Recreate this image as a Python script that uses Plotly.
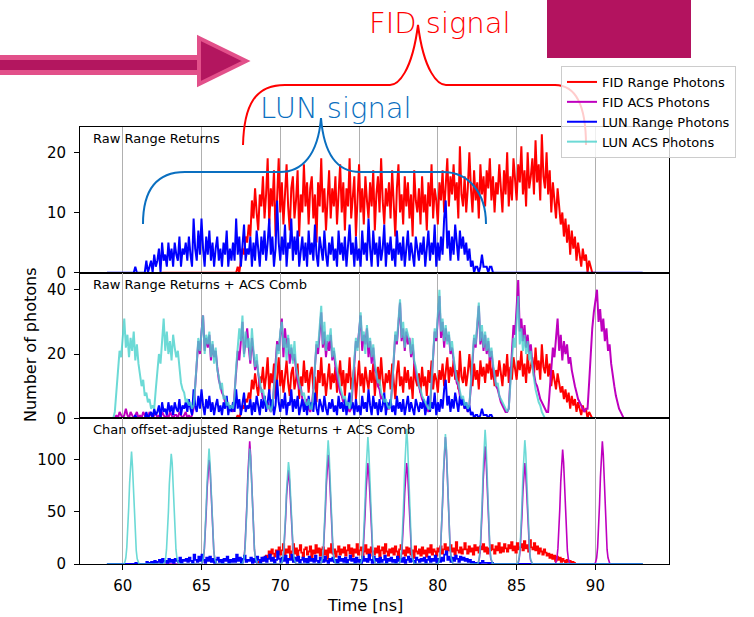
import plotly.graph_objects as go

# ------------------------------------------------------------------ data
STEP = 0.1          # ns, sampling of raw traces
STEP3 = 0.06        # ns, sampling of comb peaks (bottom panel)

# FID range photons (raw), starts at 62.5 ns, 0.1 ns bins
fid_range_t0 = 62.5
fid_range = [0] * 48 + [
    1, 0, 2, 4, 3, 6, 5,
    8, 6, 12, 9, 14, 10, 7, 13, 11, 16,
    9, 13, 19, 8, 14, 11, 17, 6, 12, 19,
    10, 15, 8, 13, 18, 11, 7, 14, 16, 9,
    12, 17, 6, 13, 10, 18, 11, 15, 8, 14,
    16, 9, 13, 5, 15, 11, 19, 10, 14, 7,
    12, 17, 9, 14, 11, 16, 8, 13, 18, 10,
    15, 7, 14, 11, 19, 9, 13, 16, 6, 12,
    18, 10, 14, 8, 16, 12, 9, 15, 11, 17,
    7, 13, 16, 10, 19, 12, 8, 14, 11, 15,
    9, 17, 12, 6, 14, 18, 10, 13, 8, 16,
    11, 15, 9, 13, 6, 17, 12, 10, 14, 8,
    16, 10, 13, 7, 15, 11, 18, 9, 14, 12,
    8, 15, 12, 17, 10, 14, 19, 11, 16, 13,
    18, 12, 15, 9, 21, 13, 11, 16, 10, 14,
    20, 14, 10, 17, 12, 15, 9, 18, 13, 16,
    11, 17, 14, 19, 12, 16, 10, 15, 13, 18,
    14, 10, 17, 13, 20, 11, 16, 12, 19, 15,
    12, 18, 15, 21, 13, 17, 11, 20, 14, 16,
    19, 13, 22, 15, 18, 12, 23, 16, 14, 20,
    13, 17, 10, 15, 12, 9, 14, 11, 8, 10,
    6, 9, 5, 8, 3, 7, 4, 6, 2, 5,
    3, 1, 4, 2, 3, 0, 2, 1, 0, 0,
    0]

# LUN range photons (raw), starts at 59.0 ns, 0.1 ns bins
lun_range_t0 = 59.0
lun_range = [
    0, 0, 0, 0, 0, 0, 0, 0, 0, 0,
    0, 0, 0, 0, 0, 0, 0, 0, 1, 0,
    0, 0, 0, 0, 0, 2, 0, 1, 2, 0,
    3, 1, 2, 4, 0, 5, 2, 3, 1, 5,
    2, 4, 1, 5, 3, 2, 6, 1, 4, 3,
    5, 2, 6, 3, 1, 9, 4, 2, 7, 3,
    9, 4, 1, 6, 3, 7, 2, 5, 1, 4,
    6, 2, 4, 1, 5, 3, 7, 1, 4, 2,
    5, 2, 9, 3, 6, 1, 5, 8, 2, 4,
    3, 6, 1, 5, 2, 7, 4, 1, 6, 3,
    7, 2, 5, 9, 3, 6, 1, 4, 12, 5,
    2, 6, 3, 8, 1, 5, 4, 9, 2, 6,
    3, 7, 1, 4, 6, 2, 5, 1, 7, 3,
    5, 2, 8, 3, 1, 6, 4, 2, 7, 3,
    1, 5, 3, 6, 2, 4, 1, 7, 3, 5,
    2, 6, 1, 4, 8, 3, 5, 1, 6, 2,
    4, 1, 7, 3, 5, 2, 9, 4, 1, 7,
    3, 5, 1, 6, 2, 4, 8, 1, 5, 3,
    6, 2, 4, 1, 7, 3, 5, 2, 6, 1,
    4, 7, 2, 5, 3, 1, 6, 4, 2, 5,
    3, 6, 1, 4, 7, 2, 5, 3, 8, 1,
    5, 2, 6, 3, 9, 12, 4, 7, 2, 6,
    3, 8, 5, 2, 7, 4, 6, 3, 5, 2,
    4, 1, 2, 0, 1, 1, 0, 1, 3, 1,
    1, 1, 0, 1, 1, 0] + [0] * 95

# ACS comb photons (raw, middle panel), 0.1 ns bins from 59.0 ns
acs_t0 = 59.0
lun_acs_humps = [
    [2, 8, 15, 21, 19, 24, 31, 22, 26, 19, 25, 21, 27, 18, 23, 17, 14, 10, 12, 7, 8, 5, 6, 3, 4],
    [3, 9, 14, 20, 17, 26, 31, 21, 27, 20, 24, 18, 26, 22, 19, 21, 15, 11, 9, 8, 5, 6, 4, 5, 3],
    [4, 10, 18, 25, 21, 28, 32, 20, 26, 23, 27, 19, 24, 17, 22, 15, 13, 9, 11, 6, 7, 4, 5, 3, 4],
    [3, 7, 16, 22, 28, 24, 32, 19, 27, 22, 25, 18, 28, 21, 16, 20, 14, 12, 8, 9, 6, 5, 3, 4, 2],
    [4, 9, 15, 23, 20, 27, 30, 22, 25, 18, 26, 20, 23, 17, 24, 16, 13, 11, 9, 7, 8, 5, 4, 6, 3],
    [3, 8, 17, 24, 22, 29, 35, 23, 30, 21, 26, 24, 28, 19, 22, 18, 15, 12, 10, 8, 6, 7, 4, 5, 3],
    [5, 11, 18, 25, 21, 28, 33, 24, 27, 20, 29, 22, 25, 19, 23, 17, 14, 11, 12, 8, 7, 5, 6, 4, 3],
    [4, 10, 19, 27, 24, 31, 37, 25, 30, 22, 28, 26, 24, 20, 25, 18, 16, 13, 10, 9, 7, 6, 5, 4, 3],
    [3, 12, 20, 28, 25, 33, 40, 27, 31, 24, 29, 23, 27, 21, 24, 19, 15, 12, 11, 8, 6, 7, 4, 5, 3],
    [4, 11, 19, 26, 23, 30, 36, 24, 29, 22, 27, 21, 25, 19, 22, 17, 14, 10, 11, 7, 6, 5, 4, 3, 2],
    [3, 10, 18, 25, 22, 29, 38, 23, 28, 21, 26, 20, 24, 18, 21, 16, 12, 9, 7, 5, 4, 2, 1, 0, 0],
]
fid_acs_low = [0, 1, 0, 2, 1, 0, 1, 3, 1, 0, 2, 1, 0, 1, 2, 0, 1, 0, 2, 1,
               1, 0, 2, 1, 0, 1, 2, 0, 1, 0, 2, 1, 0, 1, 0, 2, 1, 0, 1, 1,
               0, 2, 1, 0, 1, 2, 0, 1, 0, 1]
fid_acs_humps = [
    [3, 9, 17, 24, 20, 27, 32, 21, 25, 22, 26, 18, 23, 19, 21, 16, 12, 10, 8, 7, 5, 6, 3, 4, 3],
    [2, 8, 14, 21, 18, 25, 30, 20, 24, 28, 22, 17, 25, 19, 15, 18, 13, 10, 9, 6, 7, 4, 5, 3, 2],
    [3, 10, 16, 24, 21, 26, 31, 19, 28, 22, 25, 17, 22, 18, 20, 15, 12, 9, 10, 6, 5, 4, 6, 3, 2],
    [4, 9, 18, 23, 20, 28, 33, 22, 27, 19, 24, 21, 26, 18, 21, 16, 13, 11, 8, 7, 5, 6, 4, 3, 2],
    [3, 11, 17, 24, 22, 27, 32, 21, 26, 23, 28, 19, 24, 17, 22, 15, 14, 10, 9, 6, 7, 5, 4, 3, 3],
    [4, 10, 19, 26, 23, 30, 36, 24, 28, 21, 27, 23, 25, 19, 23, 17, 14, 12, 10, 8, 6, 5, 4, 3, 2],
    [3, 11, 20, 27, 24, 32, 38, 25, 30, 22, 28, 24, 26, 20, 22, 18, 15, 11, 10, 7, 6, 5, 3, 4, 2],
    [4, 10, 18, 25, 22, 29, 35, 23, 27, 21, 26, 20, 24, 18, 21, 16, 13, 10, 9, 7, 5, 4, 3, 2, 2],
    [3, 12, 21, 29, 26, 34, 43, 27, 31, 24, 29, 22, 26, 20, 23, 17, 14, 11, 10, 8, 6, 5, 4, 3, 2],
    [2, 9, 16, 22, 19, 25, 31, 21, 26, 18, 24, 20, 23, 17, 19, 15, 12, 10, 8, 6, 5, 4, 3, 2, 3],
    [3, 11, 20, 28, 33, 36, 40, 30, 34, 27, 31, 24, 28, 21, 23, 17, 13, 10, 7, 5, 3, 2, 1, 0, 0],
]
lun_acs2 = [0] * 5 + sum(lun_acs_humps, []) + [0] * 61
fid_acs2 = [0] * 5 + fid_acs_low + sum(fid_acs_humps, []) + [0] * 11

# Channel-offset adjusted comb peaks (bottom panel), 0.06 ns samples
lun_peak_centers = [60.55, 63.05, 65.5, 68.05, 70.55, 73.05, 75.55, 78.05, 80.5, 83.0, 85.5]
lun_peaks = [
    [0, 2, 6, 16, 31, 54, 78, 99, 108, 94, 72, 49, 28, 13, 5, 2, 0],
    [0, 1, 5, 14, 29, 50, 77, 96, 106, 97, 75, 51, 29, 14, 6, 2, 0],
    [0, 2, 6, 15, 32, 55, 80, 101, 111, 98, 74, 50, 28, 13, 5, 1, 0],
    [0, 2, 5, 14, 30, 53, 79, 100, 111, 102, 77, 52, 30, 14, 6, 2, 0],
    [0, 1, 5, 13, 27, 48, 71, 89, 98, 90, 69, 46, 27, 12, 5, 2, 0],
    [0, 2, 6, 16, 33, 58, 85, 108, 119, 106, 80, 54, 31, 15, 6, 2, 0],
    [0, 2, 7, 17, 34, 60, 88, 111, 122, 108, 82, 55, 32, 15, 6, 2, 0],
    [0, 2, 7, 18, 37, 64, 93, 118, 130, 116, 88, 59, 34, 16, 6, 2, 0],
    [0, 2, 6, 17, 35, 61, 90, 114, 125, 112, 85, 57, 33, 15, 6, 2, 0],
    [0, 2, 7, 18, 36, 63, 92, 117, 129, 115, 87, 58, 33, 16, 6, 2, 0],
    [0, 2, 6, 16, 33, 58, 85, 108, 119, 107, 81, 54, 31, 14, 5, 2, 0],
]
fid_peak_centers = [65.5, 68.05, 70.55, 73.05, 75.55, 78.05, 80.5, 83.0, 85.5, 87.95, 90.45]
fid_peaks = [
    [0, 1, 5, 14, 28, 50, 73, 91, 100, 93, 71, 47, 27, 13, 5, 1, 0],
    [0, 2, 6, 16, 33, 57, 84, 106, 118, 104, 79, 53, 30, 14, 6, 2, 0],
    [0, 1, 4, 12, 25, 44, 66, 82, 90, 81, 62, 42, 24, 11, 4, 1, 0],
    [0, 2, 5, 14, 29, 51, 75, 95, 105, 94, 72, 48, 28, 13, 5, 2, 0],
    [0, 1, 5, 13, 27, 47, 70, 88, 97, 88, 67, 45, 26, 12, 5, 1, 0],
    [0, 2, 5, 13, 27, 47, 69, 88, 97, 89, 68, 46, 26, 12, 5, 2, 0],
    [0, 2, 6, 17, 34, 59, 87, 111, 122, 109, 83, 55, 32, 15, 6, 2, 0],
    [0, 2, 6, 15, 31, 55, 81, 102, 113, 101, 77, 51, 30, 14, 5, 2, 0],
    [0, 1, 5, 13, 27, 47, 70, 88, 97, 87, 66, 44, 26, 12, 4, 1, 0],
    [0, 2, 6, 15, 30, 53, 79, 100, 110, 98, 75, 50, 29, 13, 5, 2, 0],
    [0, 2, 6, 16, 32, 57, 84, 106, 118, 105, 80, 54, 31, 14, 6, 2, 0],
]
comb_t0, comb_t1 = 59.0, 93.0
# bottom-panel range traces use the raw values on the offset-adjusted time grid
fid3_t0, fid3_step = 68.45, 0.09

x_ticks = [60, 65, 70, 75, 80, 85, 90]
names = ["FID Range Photons", "FID ACS Photons", "LUN Range Photons", "LUN ACS Photons"]
colors = ["#ff0000", "#bf00bf", "#0000ff", "#48d1cc"]
panel_titles = ["Raw Range Returns", "Raw Range Returns + ACS Comb",
                "Chan offset-adjusted Range Returns + ACS Comb"]

# ------------------------------------------------------------------ build series
def grid(t0, step, n):
    return [round(t0 + i * step, 4) for i in range(n)]

t_fid = grid(fid_range_t0, STEP, len(fid_range))
t_lun = grid(lun_range_t0, STEP, len(lun_range))
t_lacs = grid(acs_t0, STEP, len(lun_acs2))
t_facs = grid(acs_t0, STEP, len(fid_acs2))

n3 = int(round((comb_t1 - comb_t0) / STEP3)) + 1
t3 = grid(comb_t0, STEP3, n3)

def comb(centers, peaks):
    y = [0] * n3
    for c, p in zip(centers, peaks):
        i0 = int(round((c - 8 * STEP3 - comb_t0) / STEP3))
        for k, v in enumerate(p):
            y[i0 + k] = v
    return y

lun3 = comb(lun_peak_centers, lun_peaks)
fid3 = comb(fid_peak_centers, fid_peaks)
fid3_vals = fid_range[48:]
t_fid3 = grid(fid3_t0, fid3_step, len(fid3_vals))

# ------------------------------------------------------------------ figure
L, R, T, B = 80, 669, 127, 564
FW, FH = 754, 617
PW, PH = R - L, B - T

def px(x):
    return (x - L) / PW

def py(y):
    return (B - y) / PH

fig = go.Figure()

def add(x, y, i, panel, width=2, show=False, shape="linear", opacity=1.0):
    fig.add_trace(go.Scatter(
        x=x, y=y, mode="lines", name=names[i], legendgroup=names[i],
        showlegend=show, opacity=opacity,
        line=dict(color=colors[i], width=width, shape=shape),
        xaxis="x" if panel == 1 else f"x{panel}",
        yaxis="y" if panel == 1 else f"y{panel}",
        hoverinfo="skip"))

# panel 1
add(t_fid, fid_range, 0, 1)
add(t_lun, lun_range, 2, 1)
# panel 2
add(t_fid, fid_range, 0, 2, show=True)
add(t_facs, fid_acs2, 1, 2, show=True)
add(t_lun, lun_range, 2, 2, show=True)
add(t_lacs, lun_acs2, 3, 2, show=True, opacity=0.8)
# panel 3
add(t_fid3, fid3_vals, 0, 3, width=1.8, shape="hv")
add(t3, fid3, 1, 3, width=1.6)
add(t_lun, lun_range, 2, 3, width=1.8, shape="hv")
add(t3, lun3, 3, 3, width=1.6, opacity=0.8)

font_main = "DejaVu Sans"
xcommon = dict(range=[57.29, 94.67], tickvals=x_ticks, showgrid=True,
               gridcolor="#b0b0b0", gridwidth=1, zeroline=False,
               showline=True, mirror=True, linecolor="black", linewidth=1,
               tickfont=dict(family=font_main, size=15, color="black"))
ycommon = dict(showgrid=False, zeroline=False, showline=True, mirror=True,
               linecolor="black", linewidth=1, ticks="outside", ticklen=5,
               tickwidth=1, tickcolor="black", ticklabelstandoff=5,
               tickfont=dict(family=font_main, size=15, color="black"))

fig.update_layout(
    width=FW, height=FH, autosize=False,
    margin=dict(l=L, r=FW - R, t=T, b=FH - B),
    paper_bgcolor="white", plot_bgcolor="white",
    xaxis=dict(**xcommon, anchor="y", showticklabels=False, ticks=""),
    xaxis2=dict(**xcommon, anchor="y2", showticklabels=False, ticks="", matches="x"),
    xaxis3=dict(**xcommon, anchor="y3", ticks="outside", ticklen=5, tickwidth=1,
                tickcolor="black", matches="x", ticklabelstandoff=3),
    yaxis=dict(**ycommon, domain=[2 / 3, 1], range=[0, 24.2], tickvals=[0, 10, 20]),
    yaxis2=dict(**ycommon, domain=[1 / 3, 2 / 3], range=[0, 45.3], tickvals=[0, 20, 40]),
    yaxis3=dict(**ycommon, domain=[0, 1 / 3], range=[0, 140], tickvals=[0, 50, 100]),
    legend=dict(x=px(561), y=py(66), xanchor="left", yanchor="top",
                bgcolor="rgba(255,255,255,0.8)", bordercolor="#cccccc", borderwidth=1,
                font=dict(family=font_main, size=13, color="black"),
                tracegroupgap=0, itemwidth=30),
)

ann = []
panel_tops = [T, T + PH / 3, T + 2 * PH / 3]
for title, top in zip(panel_titles, panel_tops):
    ann.append(dict(x=px(91), y=py(top + 2), xref="paper", yref="paper",
                    xanchor="left", yanchor="top", showarrow=False, text=title,
                    font=dict(family=font_main, size=13, color="black")))

def label(text, x, y, size, color, angle=0, weight="normal"):
    ann.append(dict(x=px(x), y=py(y), xref="paper", yref="paper", textangle=angle,
                    xanchor="center", yanchor="middle", showarrow=False, text=text,
                    font=dict(family=font_main, size=size, color=color, weight=weight)))

label("Number of photons", 30, 345, 16, "black", angle=-90)
label("Time [ns]", 365, 605, 16, "black")
label("FID signal", 440, 23, 29, "#ff0000", weight=300)
label("LUN signal", 336, 108, 29, "#0a6fc0", weight=300)
fig.update_layout(annotations=ann)

def path(segs, close=False):
    out = []
    for cmd, *pts in segs:
        out.append(cmd + " ".join(f"{px(x):.5f},{py(y):.5f}" for x, y in pts))
    s = " ".join(out)
    return s + " Z" if close else s

shapes = []
# decorative slide arrow
shapes.append(dict(type="rect", xref="paper", yref="paper", x0=px(-2), x1=px(201),
                   y0=py(75), y1=py(55), fillcolor="#e2508a", line=dict(width=0), layer="above"))
shapes.append(dict(type="rect", xref="paper", yref="paper", x0=px(-2), x1=px(201),
                   y0=py(70), y1=py(60), fillcolor="#b3165f", line=dict(width=0), layer="above"))
shapes.append(dict(type="path", xref="paper", yref="paper", layer="above",
                   path=path([("M", (199, 38)), ("L", (246, 61)), ("L", (199, 84))], close=True),
                   fillcolor="#b3165f", line=dict(color="#e2508a", width=4)))
# decorative slide block
shapes.append(dict(type="rect", xref="paper", yref="paper", x0=px(547), x1=px(691),
                   y0=py(58), y1=py(-2), fillcolor="#b3135f", line=dict(width=0), layer="above"))
# braces
shapes.append(dict(type="path", xref="paper", yref="paper", layer="above",
                   path=path([("M", (243, 145)), ("C", (244, 105), (255, 85), (285, 85)),
                              ("L", (390, 85)), ("C", (398, 85), (412, 72), (418, 25)),
                              ("C", (424, 72), (438, 85), (446, 85)), ("L", (555, 85)),
                              ("C", (575, 85), (586, 105), (586, 145))]),
                   line=dict(color="#ff0000", width=2)))
shapes.append(dict(type="path", xref="paper", yref="paper", layer="above",
                   path=path([("M", (143, 224)), ("C", (143, 192), (155, 172), (185, 172)),
                              ("L", (280, 172)), ("C", (302, 172), (318, 155), (321, 118)),
                              ("C", (324, 155), (338, 172), (360, 172)), ("L", (443, 172)),
                              ("C", (468, 172), (486, 192), (486, 224))]),
                   line=dict(color="#0a6fc0", width=2)))
fig.update_layout(shapes=shapes)

fig.write_html("out.html", config={"displayModeBar": False},
               post_script="document.body.style.margin='0';document.body.style.padding='0';")
